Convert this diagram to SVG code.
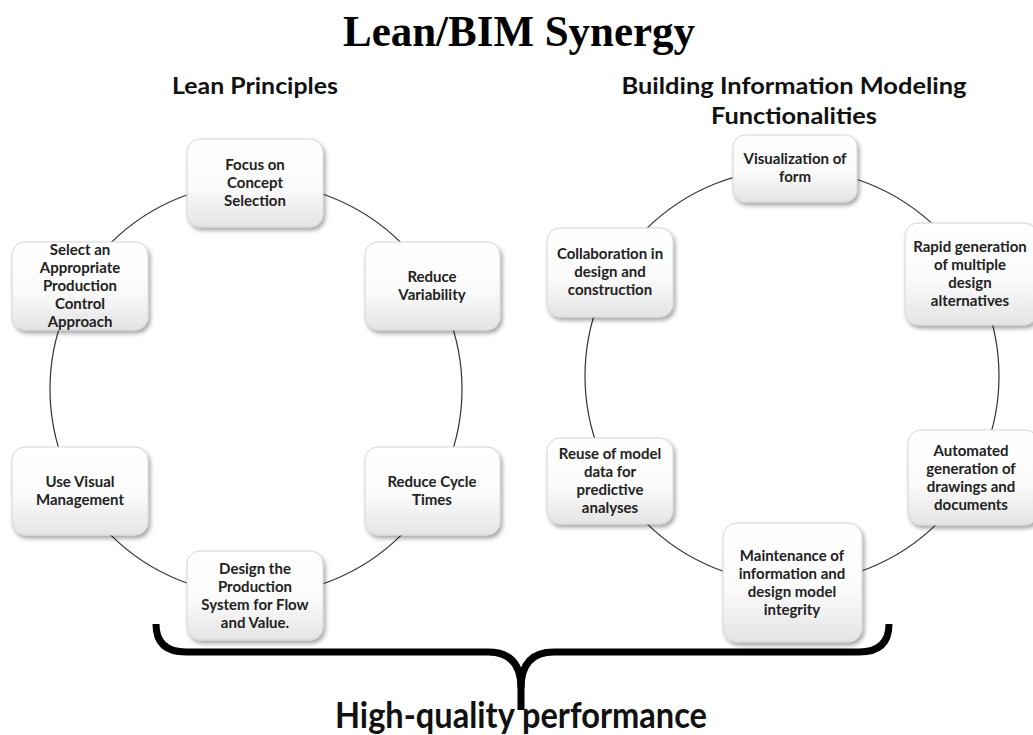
<svg xmlns="http://www.w3.org/2000/svg" width="1033" height="735" viewBox="0 0 1033 735">
<defs>
<linearGradient id="g" x1="0" y1="0" x2="0" y2="1">
<stop offset="0" stop-color="#ffffff"/>
<stop offset="0.55" stop-color="#fbfbfb"/>
<stop offset="1" stop-color="#e4e4e4"/>
</linearGradient>
<filter id="sh" x="-20%" y="-20%" width="150%" height="150%">
<feDropShadow dx="2" dy="3" stdDeviation="2" flood-color="#000" flood-opacity="0.35"/>
</filter>
</defs>
<style>
.box{fill:url(#g);stroke:#d6d6d6;stroke-width:1;filter:url(#sh)}
.t{font-family:Lato,"Liberation Sans",sans-serif;font-weight:bold;font-size:15px;fill:#222;text-anchor:middle}
.h{font-family:Lato,"Liberation Sans",sans-serif;font-weight:bold;fill:#111;text-anchor:middle}
.ring{fill:none;stroke:#333;stroke-width:1.2}
.brace{fill:none;stroke:#000;stroke-width:7;stroke-linecap:butt;stroke-linejoin:round}
</style>
<rect width="1033" height="735" fill="#fff"/>
<text x="519" y="46" font-family="Liberation Serif,serif" font-weight="bold" font-size="44" text-anchor="middle" fill="#000" textLength="352" lengthAdjust="spacingAndGlyphs">Lean/BIM Synergy</text>
<text class="h" x="255" y="94" font-size="22" textLength="166" lengthAdjust="spacingAndGlyphs">Lean Principles</text>
<text class="h" x="794" y="94" font-size="22" textLength="345" lengthAdjust="spacingAndGlyphs">Building Information Modeling</text>
<text class="h" x="794" y="124" font-size="22" textLength="166" lengthAdjust="spacingAndGlyphs">Functionalities</text>
<g id="connectors">
<circle class="ring" cx="256" cy="389" r="206"/>
<circle class="ring" cx="792" cy="376" r="207"/>
</g>
<g id="n-focus"><rect class="box" x="187" y="139" width="136" height="88" rx="13"/>
<text class="t" x="255" y="170">Focus on</text><text class="t" x="255" y="188">Concept</text><text class="t" x="255" y="206">Selection</text></g>
<g id="n-variability"><rect class="box" x="365" y="242" width="135" height="88" rx="13"/>
<text class="t" x="432" y="282">Reduce</text><text class="t" x="432" y="300">Variability</text></g>
<g id="n-cycle"><rect class="box" x="365" y="447" width="135" height="88" rx="13"/>
<text class="t" x="432" y="487">Reduce Cycle</text><text class="t" x="432" y="505">Times</text></g>
<g id="n-design"><rect class="box" x="187" y="551" width="136" height="89" rx="13"/>
<text class="t" x="255" y="574">Design the</text><text class="t" x="255" y="592">Production</text><text class="t" x="255" y="610">System for Flow</text><text class="t" x="255" y="628">and Value.</text></g>
<g id="n-visual"><rect class="box" x="12" y="447" width="136" height="88" rx="13"/>
<text class="t" x="80" y="487">Use Visual</text><text class="t" x="80" y="505">Management</text></g>
<g id="n-select"><rect class="box" x="12" y="242" width="136" height="88" rx="13"/>
<text class="t" x="80" y="255">Select an</text><text class="t" x="80" y="273">Appropriate</text><text class="t" x="80" y="291">Production</text><text class="t" x="80" y="309">Control</text><text class="t" x="80" y="327">Approach</text></g>
<g id="n-visualization"><rect class="box" x="733" y="135" width="124" height="67" rx="12"/>
<text class="t" x="795" y="164">Visualization of</text><text class="t" x="795" y="182">form</text></g>
<g id="n-rapid"><rect class="box" x="905" y="223" width="132" height="102" rx="13"/>
<text class="t" x="970" y="252">Rapid generation</text><text class="t" x="970" y="270">of multiple</text><text class="t" x="970" y="288">design</text><text class="t" x="970" y="306">alternatives</text></g>
<g id="n-automated"><rect class="box" x="908" y="430" width="130" height="95" rx="13"/>
<text class="t" x="971" y="456">Automated</text><text class="t" x="971" y="474">generation of</text><text class="t" x="971" y="492">drawings and</text><text class="t" x="971" y="510">documents</text></g>
<g id="n-maintenance"><rect class="box" x="723" y="523" width="139" height="119" rx="14"/>
<text class="t" x="792" y="561">Maintenance of</text><text class="t" x="792" y="579">information and</text><text class="t" x="792" y="597">design model</text><text class="t" x="792" y="615">integrity</text></g>
<g id="n-reuse"><rect class="box" x="547" y="438" width="126" height="86" rx="13"/>
<text class="t" x="610" y="459">Reuse of model</text><text class="t" x="610" y="477">data for</text><text class="t" x="610" y="495">predictive</text><text class="t" x="610" y="513">analyses</text></g>
<g id="n-collab"><rect class="box" x="547" y="228" width="126" height="89" rx="13"/>
<text class="t" x="610" y="259">Collaboration in</text><text class="t" x="610" y="277">design and</text><text class="t" x="610" y="295">construction</text></g>
<g id="brace">
<path class="brace" d="M156,624 Q156,652 186,652 L488,652 Q521,652 521,688 L521,710"/>
<path class="brace" d="M889,624 Q889,652 859,652 L554,652 Q521,652 521,688"/>
</g>
<text class="h" x="521" y="728" font-size="37" fill="#000" textLength="372" lengthAdjust="spacingAndGlyphs">High-quality performance</text>
</svg>
